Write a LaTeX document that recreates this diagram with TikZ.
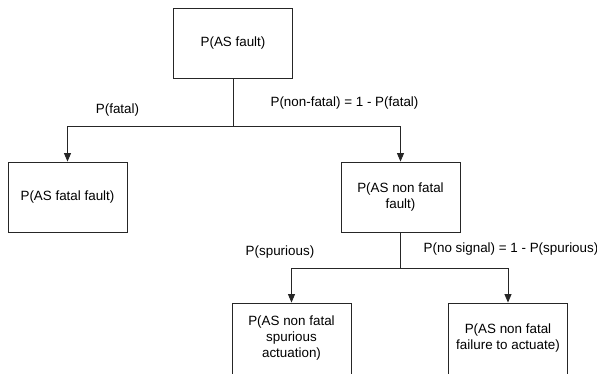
\documentclass[tikz,border=0pt]{standalone}
\usepackage{fontspec}
\setmainfont{Liberation Sans}
\usetikzlibrary{arrows.meta}
\begin{document}
\begin{tikzpicture}[x=1pt,y=-1pt,
  box/.style={draw=black!85,line width=0.9pt,minimum width=119pt,minimum height=70pt,
    inner sep=0pt,align=center,font=\fontsize{13.4}{16}\selectfont},
  lbl/.style={inner sep=0pt,font=\fontsize{13.4}{16}\selectfont},
  conn/.style={draw=black!85,line width=0.9pt},
  arr/.style={conn,-{Triangle[width=7pt,length=8.5pt]}}]
\useasboundingbox (0,0) rectangle (597,373);
\node[box] (top) at (233,43.5) {P(AS fault)};
\node[box] (fatal) at (67.5,197) {P(AS fatal fault)};
\node[box] (nonfatal) at (400.5,197) {P(AS non fatal\\fault)};
\node[box,minimum height=71pt] (spur) at (291.5,338.5) {P(AS non fatal\\spurious\\actuation)};
\node[box,minimum height=71pt] (fail) at (508,338.5) {P(AS non fatal\\failure to actuate)};
\coordinate (j1) at (233,126);
\coordinate (j2) at (400.5,268);
\draw[conn] (top.south) -- (j1);
\draw[arr] (j1) -| (fatal.north);
\draw[arr] (j1) -| (nonfatal.north);
\draw[conn] (nonfatal.south) -- (j2);
\draw[arr] (j2) -| (spur.north);
\draw[arr] (j2) -| (fail.north);
\node[lbl] (lfatal) at (117.5,110) {P(fatal)};
\node[lbl] (lnonfatal) at (344.5,103) {P(non-fatal) = 1 - P(fatal)};
\node[lbl] (lspur) at (280,252) {P(spurious)};
\node[lbl] (lnosig) at (511,249) {P(no signal) = 1 - P(spurious)};
\end{tikzpicture}
\end{document}
